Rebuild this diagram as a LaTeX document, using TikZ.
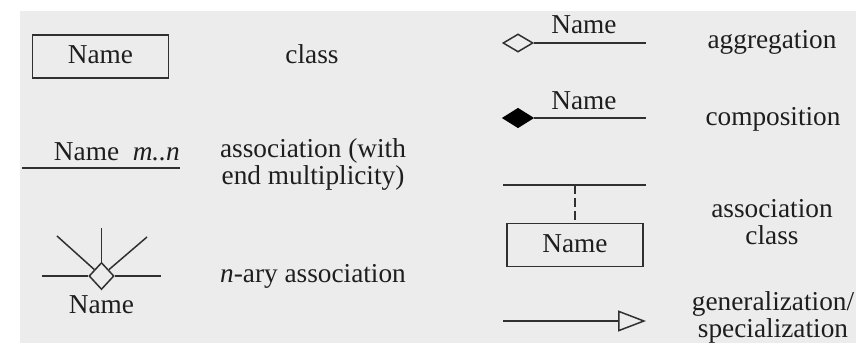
\documentclass[tikz,border=0pt]{standalone}
\usepackage{fontspec}
\setmainfont{Liberation Serif}
\usetikzlibrary{shapes.geometric,arrows.meta}
\definecolor{bg}{HTML}{ECECEC}
\definecolor{ink}{HTML}{1E1E1E}
\definecolor{ln}{HTML}{303030}
\tikzset{
  txt/.style={anchor=base,inner sep=0pt,text=ink,font=\fontsize{27.3}{27}\selectfont},
  conn/.style={draw=ln,line width=1.5pt},
  classbox/.style={draw=ln,line width=1.5pt,minimum width=136pt,minimum height=43pt,inner sep=0pt},
}
\begin{document}
\begin{tikzpicture}[x=1pt,y=-1pt]
\useasboundingbox (0,0) rectangle (856,343);
\clip (0,0) rectangle (856,343);
\fill[bg] (20,11) rectangle (856,343);
% class
\node[classbox] (cls) at (100.5,56.5) {};
\node[txt] (clsname) at (100.5,63) {Name};
\node[txt] (l1) at (312,63) {class};
% association
\coordinate (as1) at (22,168);
\coordinate (as2) at (180,168);
\draw[conn] (as1) -- (as2);
\node[txt,anchor=base east] (asname) at (180,160) {Name\ \ \textit{m..n}};
\node[txt] (l2a) at (313,157) {association (with};
\node[txt] (l2b) at (313,184) {end multiplicity)};
% n-ary
\node[diamond,draw=ln,line width=1.5pt,inner sep=0pt,minimum width=25pt,minimum height=27pt,fill=bg] (nd) at (101.5,276) {};
\coordinate (nw) at (42,276);
\coordinate (ne) at (161,276);
\coordinate (nn) at (101.5,228);
\coordinate (nl) at (57,236);
\coordinate (nr) at (147,237);
\draw[conn] (nw) -- (nd.west);
\draw[conn] (nd.east) -- (ne);
\draw[conn] (nn) -- (nd.north);
\draw[conn] (nl) -- (nd);
\draw[conn] (nr) -- (nd);
\node[txt] (ndname) at (101.5,313) {Name};
\node[txt] (l3) at (313,282) {\textit{n}-ary association};
% aggregation
\node[diamond,draw=ln,line width=1.5pt,inner sep=0pt,minimum width=30pt,minimum height=18pt,fill=bg] (ag) at (518,43) {};
\coordinate (age) at (646,43);
\draw[conn] (ag.east) -- (age);
\node[txt] (agname) at (584,33) {Name};
\node[txt] (l4) at (772,48) {aggregation};
% composition
\node[diamond,draw=black,line width=1.5pt,inner sep=0pt,minimum width=30pt,minimum height=19pt,fill=black] (cp) at (518,118) {};
\coordinate (cpe) at (646,118);
\draw[conn] (cp.east) -- (cpe);
\node[txt] (cpname) at (584,109) {Name};
\node[txt] (l5) at (773,125) {composition};
% association class
\coordinate (acl) at (503,185);
\coordinate (acr) at (646,185);
\coordinate (acm) at (575,185);
\draw[conn] (acl) -- (acr);
\node[classbox] (acbox) at (575,245) {};
\draw[draw=ln,line width=1.5pt,dash pattern=on 9pt off 4pt] (acm) -- (acbox.north);
\node[txt] (acname) at (575,252) {Name};
\node[txt] (l6a) at (772,217) {association};
\node[txt] (l6b) at (772,244) {class};
% generalization
\coordinate (g1) at (503,321);
\coordinate (g2) at (646,321);
\draw[conn,-{Triangle[open,length=28pt,width=21pt,line width=1.5pt]}] (g1) -- (g2);
\node[txt] (l7a) at (773,310) {generalization/};
\node[txt] (l7b) at (773,337) {specialization};
\end{tikzpicture}
\end{document}
